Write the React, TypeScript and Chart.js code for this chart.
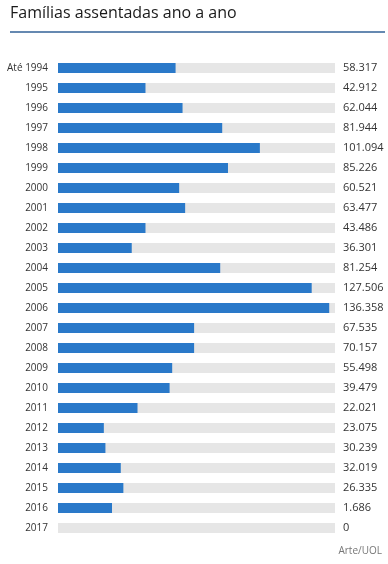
import { useEffect, useRef } from 'react';
import { Chart, registerables } from 'chart.js';

Chart.register(...registerables);

const title = 'Famílias assentadas ano a ano';
const source = 'Arte/UOL';

const categories = [
  'Até 1994', '1995', '1996', '1997', '1998', '1999', '2000', '2001',
  '2002', '2003', '2004', '2005', '2006', '2007', '2008', '2009',
  '2010', '2011', '2012', '2013', '2014', '2015', '2016', '2017',
];

const valueLabels = [
  '58.317', '42.912', '62.044', '81.944', '101.094', '85.226', '60.521', '63.477',
  '43.486', '36.301', '81.254', '127.506', '136.358', '67.535', '70.157', '55.498',
  '39.479', '22.021', '23.075', '30.239', '32.019', '26.335', '1.686', '0',
];

// bar lengths as drawn in the picture
const barLengths = [
  59000, 43900, 62500, 82400, 101300, 85300, 60800, 63800,
  43900, 37000, 81400, 127300, 136100, 68300, 68300, 57300,
  56000, 39900, 23000, 23800, 31500, 32800, 27100, 0,
];

const trackMax = 139000;
const trackValues = categories.map(() => trackMax);

export default function App() {
  const ref = useRef<HTMLCanvasElement>(null);

  useEffect(() => {
    document.body.style.margin = '0';
    const font = { family: 'Open Sans', size: 10 };
    const chart = new Chart(ref.current!, {
      type: 'bar',
      data: {
        labels: categories,
        datasets: [
          { data: barLengths, backgroundColor: '#2a79c9', barThickness: 10, grouped: false, inflateAmount: 0 },
          { data: trackValues, backgroundColor: '#e6e6e6', barThickness: 10, grouped: false, inflateAmount: 0 },
        ],
      },
      options: {
        indexAxis: 'y',
        responsive: false,
        animation: false,
        layout: { padding: { top: 58, bottom: 26, left: 0, right: 0 } },
        plugins: { legend: { display: false }, tooltip: { enabled: false } },
        scales: {
          x: { display: false, min: 0, max: trackMax },
          y: {
            position: 'left',
            grid: { display: false, drawTicks: false },
            border: { display: false },
            ticks: { padding: 10, color: '#333', font, autoSkip: false },
            afterFit: (s: any) => { s.width = 58; },
          },
          y2: {
            type: 'category',
            labels: valueLabels,
            position: 'right',
            offset: true,
            grid: { display: false, drawTicks: false },
            border: { display: false },
            ticks: { padding: 8, color: '#333', font: { family: 'Open Sans', size: 11 }, autoSkip: false },
            afterFit: (s: any) => { s.width = 53; },
          },
        },
      } as any,
    });
    return () => chart.destroy();
  }, []);

  return (
    <div style={{ position: 'relative', width: 388, height: 564, background: '#fff', overflow: 'hidden' }}>
      <canvas ref={ref} width={388} height={564} style={{ position: 'absolute', left: 0, top: 0, display: 'block' }} />
      <div style={{ position: 'absolute', left: 10, top: 2, fontFamily: 'Open Sans', fontSize: 16, lineHeight: '20px', color: '#1a1a1a', whiteSpace: 'nowrap' }}>
        {title}
      </div>
      <div style={{ position: 'absolute', left: 10, top: 31, width: 375, height: 2, background: '#6589b1' }} />
      <div style={{ position: 'absolute', right: 6, top: 544, fontFamily: 'Open Sans', fontSize: 10, lineHeight: '12px', color: '#777', whiteSpace: 'nowrap' }}>
        {source}
      </div>
    </div>
  );
}
